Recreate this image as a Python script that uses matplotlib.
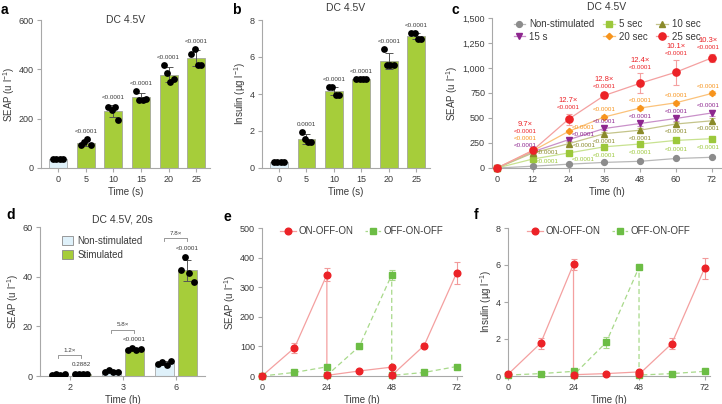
import numpy as np
import matplotlib.pyplot as plt
from matplotlib.patches import Patch
from matplotlib.lines import Line2D
from matplotlib.ticker import FuncFormatter

plt.rcParams['font.family'] = ['Liberation Sans', 'DejaVu Sans']
plt.rcParams['mathtext.default'] = 'regular'

# ---- data ----
# a: SEAP after DC 4.5V stimulation of different length
a_times = ['0', '5', '10', '15', '20', '25']
a_points = [[36, 35, 36, 37], [92, 104, 117, 92], [249, 236, 247, 195],
            [314, 277, 277, 278], [417, 387, 348, 360], [462, 481, 418, 418]]
a_pvals = ['', '<0.0001', '<0.0001', '<0.0001', '<0.0001', '<0.0001']

# b: insulin
b_times = ['0', '5', '10', '15', '20', '25']
b_points = [[0.33, 0.35, 0.34, 0.33], [1.93, 1.58, 1.38, 1.38], [4.37, 4.37, 3.96, 3.96],
            [4.82, 4.80, 4.83, 4.80], [6.45, 5.55, 5.55, 5.55], [7.28, 7.28, 6.98, 6.98]]
b_pvals = ['', '0.0001', '<0.0001', '<0.0001', '<0.0001', '<0.0001']

# c: SEAP time course
c_time = [0, 12, 24, 36, 48, 60, 72]
c_nonstim = [0, 18, 38, 56, 67, 95, 107]
c_nonstim_err = [0, 3, 4, 5, 5, 6, 6]
c_5sec = [0, 90, 150, 212, 240, 276, 293]
c_5sec_err = [0, 8, 10, 12, 12, 14, 14]
c_10sec = [0, 150, 243, 343, 378, 440, 472]
c_10sec_err = [0, 10, 15, 18, 20, 22, 24]
c_15s = [0, 162, 283, 395, 445, 495, 550]
c_15s_err = [0, 10, 18, 20, 22, 25, 30]
c_20sec = [0, 172, 366, 510, 600, 652, 745]
c_20sec_err = [0, 10, 15, 18, 18, 20, 20]
c_25sec = [0, 177, 488, 725, 847, 958, 1100]
c_25sec_err = [0, 15, 55, 30, 100, 125, 40]
c_fold = ['9.7×', '12.7×', '12.8×', '12.4×', '10.1×', '10.3×']

# d: short stimulation, SEAP
d_times = ['2', '3', '6']
d_nonstim_pts = [[0.6, 0.7, 0.6, 0.8], [1.7, 2.4, 1.5, 1.8], [4.8, 5.8, 4.6, 5.9]]
d_stim_pts = [[0.7, 0.8, 0.7, 0.8], [10.6, 11.1, 10.4, 10.8], [42.8, 47.9, 41.5, 37.8]]
d_fold = ['1.2×', '5.8×', '7.8×']
d_pvals = ['0.2882', '<0.0001', '<0.0001']

# e/f: reversibility
ef_time = [0, 12, 24, 24, 36, 48, 48, 60, 72]
e_on = [0, 95, 342, 2, 17, 30, 2, 103, 348]
e_on_err = [0, 18, 22, 0, 3, 4, 0, 8, 38]
e_off = [0, 12, 31, 2, 100, 342, 2, 12, 32]
e_off_err = [0, 2, 4, 0, 8, 17, 0, 2, 4]
f_on = [0.09, 1.78, 6.05, 0.07, 0.13, 0.22, 0.09, 1.75, 5.82]
f_on_err = [0.02, 0.3, 0.3, 0.02, 0.03, 0.04, 0.02, 0.3, 0.55]
f_off = [0.05, 0.13, 0.25, 0.05, 1.82, 5.88, 0.05, 0.13, 0.25]
f_off_err = [0.01, 0.02, 0.03, 0.01, 0.3, 0.12, 0.01, 0.02, 0.03]

# ---- style ----
GREEN = '#a6cd3a'
BLUE = '#dff1fa'
SPINE = '#a8a8a8'
TXT = '#3a3a3a'
RED = '#ec2227'
PFS = 4.5  # p-value font size
W, H = 722, 404

fig = plt.figure(figsize=(7.22, 4.04), dpi=100)


def add_ax(l, t, r, b):
    return fig.add_axes([l / W, 1 - b / H, (r - l) / W, (b - t) / H])


def style(ax):
    for s in ['top', 'right']:
        ax.spines[s].set_visible(False)
    for s in ['left', 'bottom']:
        ax.spines[s].set_color(SPINE)
        ax.spines[s].set_linewidth(0.8)
    ax.tick_params(colors=SPINE, labelcolor=TXT, labelsize=6.5, length=3, width=0.8, pad=2)


def labels(ax, xl, yl):
    ax.set_xlabel(xl, fontsize=7, color=TXT, labelpad=2)
    ax.set_ylabel(yl, fontsize=7, color=TXT, labelpad=1.5)


def letter(x, y, s):
    fig.text(x / W, 1 - y / H, s, fontsize=10, fontweight='bold', ha='left', va='center')


def bar_panel(ax, cats, pts, pvals):
    x = np.arange(len(cats))
    means = [np.mean(p) for p in pts]
    sds = [np.std(p, ddof=1) for p in pts]
    colors = [BLUE] + [GREEN] * (len(cats) - 1)
    ax.bar(x, means, width=0.65, color=colors, edgecolor='#9a9a9a', linewidth=0.5, zorder=1)
    ax.errorbar(x, means, yerr=sds, fmt='none', ecolor='#555555', elinewidth=0.7,
                capsize=3, capthick=0.7, zorder=2)
    jit = np.array([-0.18, -0.06, 0.06, 0.18])
    for i, p in enumerate(pts):
        ax.scatter(x[i] + jit, p, s=24, color='black', zorder=3, linewidths=0, clip_on=False)
        if pvals[i]:
            top = max(means[i] + sds[i], max(p))
            ax.annotate(pvals[i], (x[i], top), xytext=(0, 5), textcoords='offset pixels',
                        ha='center', va='bottom', fontsize=PFS, color=TXT)
    ax.set_xticks(x)
    ax.set_xticklabels(cats)
    ax.set_xlim(-0.62, len(cats) - 0.5)


# ---- a ----
ax = add_ax(41, 20, 210, 168)
style(ax)
bar_panel(ax, a_times, a_points, a_pvals)
ax.set_ylim(0, 600)
ax.set_yticks([0, 200, 400, 600])
labels(ax, 'Time (s)', 'SEAP (u l$^{-1}$)')
ax.text(0.5, 1.0, 'DC 4.5V', transform=ax.transAxes, ha='center', va='center', fontsize=7.5, color=TXT)
letter(1, 10, 'a')

# ---- b ----
ax = add_ax(262, 20, 430, 168)
style(ax)
bar_panel(ax, b_times, b_points, b_pvals)
ax.set_ylim(0, 8)
ax.set_yticks([0, 2, 4, 6, 8])
labels(ax, 'Time (s)', 'Insulin (µg l$^{-1}$)')
ax.text(0.5, 1.08, 'DC 4.5V', transform=ax.transAxes, ha='center', va='center', fontsize=7.5, color=TXT)
letter(232, 10, 'b')

# ---- c ----
ax = add_ax(492, 18, 722, 168)
style(ax)
series = [
    ('Non-stimulated', c_nonstim, c_nonstim_err, '#8c8c8c', '#b8b8b8', 'o', 4.2),
    ('15 s', c_15s, c_15s_err, '#8e278f', '#c990c9', 'v', 4.2),
    ('5 sec', c_5sec, c_5sec_err, '#9cc83b', '#c8e290', 's', 4.0),
    ('20 sec', c_20sec, c_20sec_err, '#f7941d', '#fbc27a', 'D', 3.2),
    ('10 sec', c_10sec, c_10sec_err, '#8a8a2a', '#c4c48a', '^', 4.2),
    ('25 sec', c_25sec, c_25sec_err, RED, '#f4a0a0', 'o', 5.2),
]
handles = []
for name, vals, err, mc, lc, mk, ms in series:
    ax.errorbar(c_time, vals, yerr=err, fmt='none', ecolor=lc, elinewidth=0.8, capsize=2.5,
                capthick=0.8, zorder=2)
    ax.plot(c_time, vals, color=lc, lw=0.9, zorder=2)
    ax.plot(c_time, vals, ls='none', marker=mk, ms=ms, color=mc, mec=mc, zorder=3, clip_on=False)
    handles.append(Line2D([], [], color=lc, lw=0.9, marker=mk, ms=ms, mfc=mc, mec=mc, label=name))

# significance labels
colmap = {name: mc for name, _, _, mc, _, _, _ in series}
vals_map = {name: vals for name, vals, _, _, _, _, _ in series}
offsets = {
    '20 sec': [(-8, 12, 'center'), (3, 4, 'left')] + [(0, 7, 'center')] * 3 + [(-3, 7, 'center')],
    '15 s': [(-8, 6, 'center'), (3, 5, 'left')] + [(0, 7, 'center')] * 3 + [(-3, 7, 'center')],
    '10 sec': [(3, 0, 'left'), (4, -2, 'left')] + [(0, -8, 'center')] * 3 + [(-3, -8, 'center')],
    '5 sec': [(3, -3, 'left'), (3, -7, 'left')] + [(0, -9, 'center')] * 3 + [(-3, -9, 'center')],
}
for name, offs in offsets.items():
    for i, (dx, dy, ha) in enumerate(offs):
        ax.annotate('<0.0001', (c_time[i + 1], vals_map[name][i + 1]), xytext=(dx, dy),
                    textcoords='offset pixels', ha=ha, va='center', fontsize=PFS,
                    color=colmap[name], zorder=4)
for i in range(1, len(c_time)):
    dx = -3 if i == len(c_time) - 1 else 0
    if i == 1:
        base = (c_time[i], c_25sec[i])
        ax.annotate('<0.0001', base, xytext=(-8, 19), textcoords='offset pixels',
                    ha='center', va='center', fontsize=PFS, color=RED)
        ax.annotate(c_fold[i - 1], base, xytext=(-8, 26), textcoords='offset pixels',
                    ha='center', va='center', fontsize=5.5, color=RED)
    else:
        base = (c_time[i], c_25sec[i] + c_25sec_err[i])
        ax.annotate('<0.0001', base, xytext=(dx, 6), textcoords='offset pixels',
                    ha='center', va='center', fontsize=PFS, color=RED)
        ax.annotate(c_fold[i - 1], base, xytext=(dx, 13), textcoords='offset pixels',
                    ha='center', va='center', fontsize=5.5, color=RED)

ax.set_xlim(-1.7, 75.5)
ax.set_ylim(0, 1500)
ax.set_xticks(c_time)
ax.set_yticks([0, 250, 500, 750, 1000, 1250, 1500])
ax.yaxis.set_major_formatter(FuncFormatter(lambda v, p: f'{int(v):,}'))
labels(ax, 'Time (h)', 'SEAP (u l$^{-1}$)')
ax.text(0.5, 1.075, 'DC 4.5V', transform=ax.transAxes, ha='center', va='center', fontsize=7.5, color=TXT)
leg = ax.legend(handles=handles, ncol=3, loc='upper center', bbox_to_anchor=(0.5, 1.05), frameon=False,
                fontsize=7, handlelength=1.2, handletextpad=0.4, columnspacing=0.9, labelspacing=0.25)
for t in leg.get_texts():
    t.set_color(TXT)
letter(452, 10, 'c')

# ---- d ----
ax = add_ax(40, 227, 205, 376)
style(ax)
xd = np.arange(len(d_times))
ns_mean = [np.mean(p) for p in d_nonstim_pts]
ns_sd = [np.std(p, ddof=1) for p in d_nonstim_pts]
st_mean = [np.mean(p) for p in d_stim_pts]
st_sd = [np.std(p, ddof=1) for p in d_stim_pts]
ax.bar(xd - 0.215, ns_mean, 0.355, color=BLUE, edgecolor='#9a9a9a', linewidth=0.5, zorder=1)
ax.bar(xd + 0.215, st_mean, 0.355, color=GREEN, edgecolor='#9a9a9a', linewidth=0.5, zorder=1)
ax.errorbar(xd - 0.215, ns_mean, yerr=ns_sd, fmt='none', ecolor='#555555', elinewidth=0.7, capsize=3, capthick=0.7)
ax.errorbar(xd + 0.215, st_mean, yerr=st_sd, fmt='none', ecolor='#555555', elinewidth=0.7, capsize=3, capthick=0.7)
jit = np.array([-0.12, -0.04, 0.04, 0.12])
for i in range(len(d_times)):
    ax.scatter(xd[i] - 0.215 + jit, d_nonstim_pts[i], s=24, color='black', linewidths=0, zorder=3)
    ax.scatter(xd[i] + 0.215 + jit, d_stim_pts[i], s=24, color='black', linewidths=0, zorder=3)
    top = max(max(d_stim_pts[i]), st_mean[i] + st_sd[i])
    ax.annotate(d_pvals[i], (xd[i] + 0.215, top), xytext=(0, 9), textcoords='offset pixels',
                ha='center', va='center', fontsize=PFS, color=TXT)
    yb = top + 7.5
    ax.plot([xd[i] - 0.215, xd[i] - 0.215, xd[i] + 0.215, xd[i] + 0.215],
            [yb - 1.2, yb, yb, yb - 1.2], color='#888888', lw=0.6)
    ax.annotate(d_fold[i], (xd[i], yb), xytext=(0, 5), textcoords='offset pixels',
                ha='center', va='center', fontsize=PFS, color=TXT)
ax.set_xticks(xd)
ax.set_xticklabels(d_times)
ax.set_xlim(-0.56, 2.55)
ax.set_ylim(0, 60)
ax.set_yticks([0, 20, 40, 60])
labels(ax, 'Time (h)', 'SEAP (u l$^{-1}$)')
ax.text(0.5, 1.05, 'DC 4.5V, 20s', transform=ax.transAxes, ha='center', va='center', fontsize=7.5, color=TXT)
leg = ax.legend(handles=[Patch(fc=BLUE, ec='#8a8a8a', lw=0.6, label='Non-stimulated'),
                         Patch(fc=GREEN, ec='#8a8a8a', lw=0.6, label='Stimulated')],
                loc='upper left', bbox_to_anchor=(0.08, 1.0), frameon=False, fontsize=7,
                handlelength=1.1, handleheight=1.1, handletextpad=0.5, labelspacing=0.4)
for t in leg.get_texts():
    t.set_color(TXT)
letter(6, 215, 'd')


# ---- e / f ----
def onoff_panel(ax, on, on_err, off, off_err):
    style(ax)
    ax.errorbar(ef_time, on, yerr=on_err, fmt='none', ecolor='#f29a9a', elinewidth=0.8, capsize=2.5, capthick=0.8)
    ax.errorbar(ef_time, off, yerr=off_err, fmt='none', ecolor='#a8d98a', elinewidth=0.8, capsize=2.5, capthick=0.8)
    ax.plot(ef_time, on, color='#f4a0a0', lw=0.9, zorder=2)
    ax.plot(ef_time, off, color='#a8d98a', lw=0.9, ls=(0, (4, 2.5)), zorder=2)
    ax.plot(ef_time, off, ls='none', marker='s', ms=4.3, color='#6cbd45', zorder=3, clip_on=False)
    ax.plot(ef_time, on, ls='none', marker='o', ms=4.8, color=RED, zorder=4, clip_on=False)
    h = [Line2D([], [], color='#f4a0a0', lw=0.9, marker='o', ms=4.8, mfc=RED, mec=RED, label='ON-OFF-ON'),
         Line2D([], [], color='#a8d98a', lw=0.9, ls=(0, (2, 1.5)), marker='s', ms=4.3, mfc='#6cbd45',
                mec='#6cbd45', label='OFF-ON-OFF')]
    leg = ax.legend(handles=h, ncol=2, loc='upper center', bbox_to_anchor=(0.5, 1.07), frameon=False,
                    fontsize=7, handlelength=1.6, handletextpad=0.3, columnspacing=1.2)
    for t in leg.get_texts():
        t.set_color(TXT)
    ax.set_xlim(0, 74)
    ax.set_xticks([0, 24, 48, 72])


ax = add_ax(262, 228, 462, 376)
onoff_panel(ax, e_on, e_on_err, e_off, e_off_err)
ax.set_ylim(0, 500)
ax.set_yticks([0, 100, 200, 300, 400, 500])
labels(ax, 'Time (h)', 'SEAP (u l$^{-1}$)')
letter(223, 217, 'e')

ax = add_ax(508, 228, 710, 376)
onoff_panel(ax, f_on, f_on_err, f_off, f_off_err)
ax.set_ylim(0, 8)
ax.set_yticks([0, 2, 4, 6, 8])
labels(ax, 'Time (h)', 'Insulin (µg l$^{-1}$)')
letter(474, 215, 'f')

fig.savefig('out.png', dpi=100)
